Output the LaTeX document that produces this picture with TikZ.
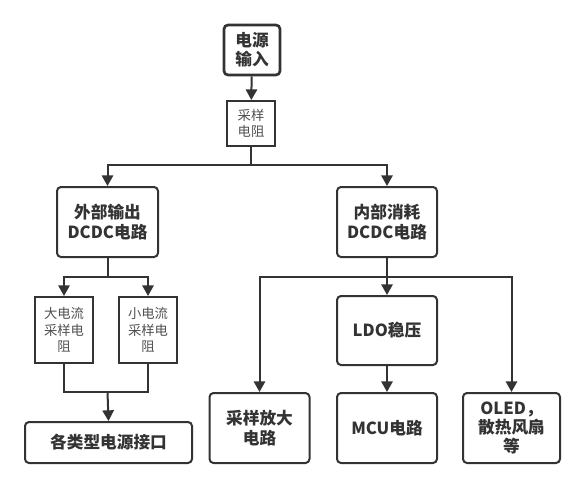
\documentclass[tikz,border=0pt]{standalone}
\usepackage{fontspec}
\setmainfont{Noto Sans CJK SC}
\usetikzlibrary{arrows.meta, positioning}
\definecolor{LineGray}{RGB}{51,51,51}
\definecolor{TextGray}{RGB}{80,80,80}

\begin{document}
\begin{tikzpicture}[x=0.75pt,y=-0.75pt,
  mainbox/.style={draw=LineGray, line width=1.5pt, rounded corners=3pt, align=center, inner sep=0pt,
    font=\fontsize{12.5}{14.5}\selectfont\bfseries, text=LineGray},
  resbox/.style={draw=LineGray, line width=1.5pt, align=center, inner sep=0pt,
    font=\fontsize{10}{12.5}\selectfont, text=TextGray},
  flow/.style={draw=LineGray, line width=1.5pt, -{Triangle[length=8pt,width=8.5pt]}},
  wire/.style={draw=LineGray, line width=1.5pt}]
  \path[use as bounding box] (0,0) rectangle (588,489);

  % top: input and sensing resistor
  \node[mainbox, line width=2pt, minimum width=42pt, minimum height=37.5pt] (src) at (252,50) {电源\\输入};
  \node[resbox, minimum width=36pt, minimum height=33.75pt] (samp) at (251,123.5) {采样\\电阻};

  % the two DCDC branches
  \node[mainbox, minimum width=75.75pt, minimum height=52.5pt] (ext) at (107.5,222) {外部输出\\DCDC电路};
  \node[mainbox, minimum width=75pt, minimum height=52.5pt] (int) at (387,222) {内部消耗\\DCDC电路};

  % left side
  \node[resbox, minimum width=43.5pt, minimum height=49.5pt] (big) at (64,330) {大电流\\采样电\\阻};
  \node[resbox, minimum width=43.5pt, minimum height=49.5pt] (small) at (148,330) {小电流\\采样电\\阻};
  \node[mainbox, minimum width=125.25pt, minimum height=30.75pt] (iface) at (108.5,442.5) {各类型电源接口};

  % right side
  \node[mainbox, minimum width=75pt, minimum height=51.75pt] (ldo) at (387,330.5) {LDO稳压};
  \node[mainbox, minimum width=75pt, minimum height=52.5pt] (amp) at (259.5,428) {采样放大\\电路};
  \node[mainbox, minimum width=75pt, minimum height=52.5pt] (mcu) at (387,428) {MCU电路};
  \node[mainbox, minimum width=72.75pt, minimum height=52.5pt] (oled) at (511.5,428) {OLED，\\散热风扇\\等};

  \coordinate (topj) at (251,165);
  \coordinate (extj) at (107.5,277);
  \coordinate (merge) at (107.5,392);
  \coordinate (intj) at (387,277);

  \draw[flow] (src) -- (samp);
  \draw[flow] (samp.south) -- (topj) -| (ext.north);
  \draw[flow] (topj) -| (int.north);

  \draw[wire] (ext.south) -- (extj);
  \draw[flow] (extj) -| (big.north);
  \draw[flow] (extj) -| (small.north);
  \draw[wire] (big.south) |- (merge) -| (small.south);
  \draw[flow] (merge) -- (iface.north);

  \draw[flow] (int.south) -- (ldo.north);
  \draw[flow] (intj) -| (amp.north);
  \draw[flow] (intj) -| (oled.north);
  \draw[flow] (ldo) -- (mcu);
\end{tikzpicture}
\end{document}
